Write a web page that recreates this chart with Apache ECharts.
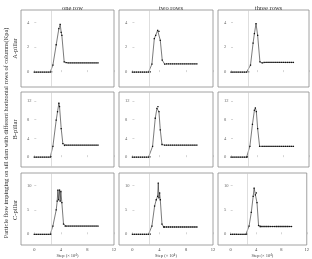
<!DOCTYPE html>
<html><head><meta charset="utf-8">
<script src="https://cdn.jsdelivr.net/npm/echarts@6/dist/echarts.min.js"></script>
<style>html,body{margin:0;padding:0;background:#fff}#c{width:312px;height:259px}</style>
</head><body><div id="c"></div>
<script>
// Column titles, row labels, axis labels
const colTitles = ["one row", "two rows", "three rows"];
const rowLabels = ["A-pillar", "B-pillar", "C-pillar"];
const yTitle = "Particle flow impinging on sill dam with different horizontal rows of columns(Kpa)";
const xTitle = "Step (× 10⁴)";
const xTicks = [0, 4, 8, 12];
const yTicksA = [0, 2, 4];
const yTicksB = [0, 4, 8, 12];
const yTicksC = [0, 5, 10];
const refStep = [2.6, 2.5, 2.6];

// x values of the flat stretches
const xBase = [0, 0.3, 0.6, 0.9, 1.2, 1.5, 1.8, 2.1, 2.4];
const xTail = [4.8, 5.1, 5.4, 5.7, 6.0, 6.3, 6.6, 6.9, 7.2, 7.5, 7.8, 8.1, 8.4, 8.7, 9.0, 9.3, 9.6];
const yBase = [0, 0, 0, 0, 0, 0, 0, 0, 0];

// A-pillar
const xA1 = [2.6, 2.8, 3.3, 3.7, 3.9, 4.05, 4.15, 4.5];
const yA1 = [0.02, 0.56, 2.2, 3.5, 3.84, 3.2, 2.96, 0.82];
const tA1 = [0.76, 0.74, 0.74, 0.74, 0.74, 0.74, 0.74, 0.74, 0.74, 0.74, 0.74, 0.74, 0.74, 0.74, 0.74, 0.74, 0.74];
const xA2 = [2.65, 2.9, 3.26, 3.46, 3.75, 3.95, 4.15, 4.44];
const yA2 = [0.02, 0.64, 2.7, 2.96, 3.36, 3.28, 2.56, 0.96];
const tA2 = [0.64, 0.66, 0.66, 0.66, 0.66, 0.66, 0.66, 0.66, 0.66, 0.66, 0.66, 0.66, 0.66, 0.66, 0.66, 0.66, 0.66];
const xA3 = [2.7, 3.0, 3.4, 3.6, 3.85, 4.1, 4.45];
const yA3 = [0.02, 0.56, 2.34, 3.1, 3.9, 2.96, 0.82];
const tA3 = [0.74, 0.78, 0.78, 0.78, 0.78, 0.78, 0.78, 0.78, 0.78, 0.78, 0.78, 0.78, 0.78, 0.78, 0.78, 0.78, 0.78];
// B-pillar
const xB1 = [2.55, 2.8, 3.3, 3.5, 3.7, 3.8, 4.05, 4.3, 4.55];
const yB1 = [0.1, 2.3, 7.9, 9.7, 11.5, 10.8, 6.1, 2.9, 2.5];
const tB1 = [2.55, 2.55, 2.55, 2.55, 2.55, 2.55, 2.55, 2.55, 2.55, 2.55, 2.55, 2.55, 2.55, 2.55, 2.55, 2.55, 2.55];
const xB2 = [2.6, 3.0, 3.4, 3.65, 3.8, 3.95, 4.15, 4.4];
const yB2 = [0.05, 2.3, 8.3, 10.4, 10.8, 9.7, 5.8, 2.7];
const tB2 = [2.55, 2.55, 2.55, 2.55, 2.55, 2.55, 2.55, 2.55, 2.55, 2.55, 2.55, 2.55, 2.55, 2.55, 2.55, 2.55, 2.55];
const xB3 = [2.5, 2.9, 3.3, 3.6, 3.75, 3.9, 4.1, 4.4];
const yB3 = [0.05, 2.3, 7.0, 10.0, 10.5, 9.7, 6.1, 2.3];
const tB3 = [2.3, 2.3, 2.3, 2.3, 2.3, 2.3, 2.3, 2.3, 2.3, 2.3, 2.3, 2.3, 2.3, 2.3, 2.3, 2.3, 2.3];
// C-pillar
const xC1 = [2.55, 2.8, 3.3, 3.45, 3.55, 3.65, 3.8, 3.9, 4.0, 4.15, 4.4, 4.65];
const yC1 = [0.05, 1.7, 5.0, 6.8, 9.1, 7.1, 9.1, 6.8, 8.8, 6.5, 2.1, 1.7];
const tC1 = [1.7, 1.7, 1.7, 1.7, 1.7, 1.7, 1.7, 1.7, 1.7, 1.7, 1.7, 1.7, 1.7, 1.7, 1.7, 1.7, 1.7];
const xC2 = [2.65, 2.9, 3.3, 3.55, 3.75, 3.85, 3.95, 4.05, 4.15, 4.4, 4.65];
const yC2 = [0.05, 1.7, 5.8, 7.1, 7.8, 10.5, 7.5, 8.5, 7.1, 2.1, 1.5];
const tC2 = [1.5, 1.5, 1.5, 1.5, 1.5, 1.5, 1.5, 1.5, 1.5, 1.5, 1.5, 1.5, 1.5, 1.5, 1.5, 1.5, 1.5];
const xC3 = [2.55, 2.9, 3.25, 3.55, 3.7, 3.9, 4.05, 4.15, 4.4, 4.65];
const yC3 = [0.05, 1.7, 4.5, 7.8, 9.5, 8.1, 8.5, 6.5, 1.8, 1.6];
const tC3 = [1.6, 1.6, 1.6, 1.6, 1.6, 1.6, 1.6, 1.6, 1.6, 1.6, 1.6, 1.6, 1.6, 1.6, 1.6, 1.6, 1.6];

const panels = [
  [[xA1, yA1, tA1], [xA2, yA2, tA2], [xA3, yA3, tA3]],
  [[xB1, yB1, tB1], [xB2, yB2, tB2], [xB3, yB3, tB3]],
  [[xC1, yC1, tC1], [xC2, yC2, tC2], [xC3, yC3, tC3]]
];
const yTicks = [yTicksA, yTicksB, yTicksC];

// layout (pixels)
const colL = [21, 119, 218], colW = [93, 94, 91];
const rowT = [10, 92, 173], rowH = [77, 75, 74];
const yMin = [-1.2, -2.1, -2.2], yMax = [5, 13.9, 12.6];

const FONT = "Liberation Serif";
const grid = [], xAxis = [], yAxis = [], series = [];
for (let r = 0; r < 3; r++) {
  for (let c = 0; c < 3; c++) {
    const i = r * 3 + c;
    grid.push({left: colL[c], top: rowT[r], width: colW[c], height: rowH[r], show: true,
      borderColor: '#8a8a8a', borderWidth: 0.8, backgroundColor: 'transparent'});
    xAxis.push({type: 'value', gridIndex: i, min: -2, max: 12,
      axisLine: {show: false}, splitLine: {show: false},
      axisTick: {show: true, inside: true, length: 2, customValues: xTicks, lineStyle: {color: '#aaa', width: 0.5}},
      axisLabel: {show: r === 2, customValues: xTicks, fontSize: 4.5, color: '#444', margin: 2, fontFamily: FONT},
      name: r === 2 ? xTitle : '', nameLocation: 'middle', nameGap: 8,
      nameTextStyle: {fontSize: 4.5, color: '#444', fontFamily: FONT}});
    yAxis.push({type: 'value', gridIndex: i, min: yMin[r], max: yMax[r],
      axisLine: {show: false}, splitLine: {show: false},
      axisTick: {show: true, inside: true, length: 2, customValues: yTicks[r], lineStyle: {color: '#aaa', width: 0.5}},
      axisLabel: {show: true, inside: true, customValues: yTicks[r], fontSize: 4.5, color: '#666', margin: 6, fontFamily: FONT}});
    const p = panels[r][c];
    const data = [];
    xBase.forEach((x, k) => data.push([x, yBase[k]]));
    p[0].forEach((x, k) => data.push([x, p[1][k]]));
    xTail.forEach((x, k) => data.push([x, p[2][k]]));
    series.push({type: 'line', xAxisIndex: i, yAxisIndex: i, data: data,
      symbol: 'rect', symbolSize: 1.3, showSymbol: true,
      lineStyle: {color: '#222', width: 0.6}, itemStyle: {color: '#111'},
      animation: false, silent: true,
      markLine: {silent: true, symbol: 'none', label: {show: false},
        lineStyle: {color: '#c8c8c8', width: 0.6, type: 'solid'},
        data: [{xAxis: refStep[c]}]}});
  }
}

const title = colTitles.map((t, c) => ({text: t, left: colL[c] + colW[c] / 2, top: 0, textAlign: 'center',
  textStyle: {fontSize: 6.5, fontWeight: 'normal', color: '#333', fontFamily: FONT}}));

const graphic = [];
rowLabels.forEach((t, r) => graphic.push({type: 'text', x: 15, y: rowT[r] + rowH[r] / 2, rotation: Math.PI / 2,
  style: {text: t, fontSize: 6.5, fill: '#333', fontFamily: FONT, align: 'center', verticalAlign: 'middle'}}));
graphic.push({type: 'text', x: 6, y: 133, rotation: Math.PI / 2,
  style: {text: yTitle, fontSize: 6.3, fill: '#333', fontFamily: FONT, align: 'center', verticalAlign: 'middle'}});

const chart = echarts.init(document.getElementById('c'), null, {renderer: 'canvas'});
chart.setOption({animation: false, title, grid, xAxis, yAxis, series, graphic});
</script></body></html>
